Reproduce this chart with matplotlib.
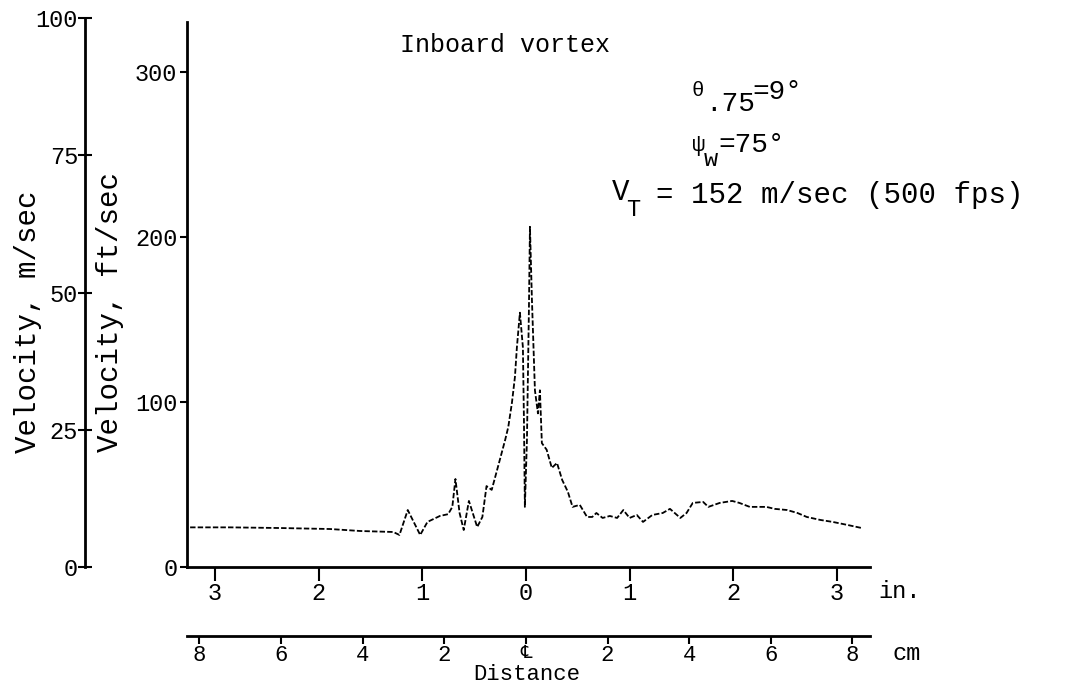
import matplotlib
matplotlib.use("Agg")
import matplotlib.pyplot as plt

# Velocity profile across the inboard vortex
dist_in = [-3.24, -2.85, -2.37, -1.89, -1.60, -1.28, -1.22, -1.14, -1.02, -0.95,
           -0.83, -0.75, -0.71, -0.68, -0.64, -0.60, -0.55, -0.47, -0.42, -0.38,
           -0.33, -0.27, -0.20, -0.17, -0.135, -0.106, -0.087, -0.058, -0.029, -0.019,
           -0.010, 0.010, 0.029, 0.039, 0.058, 0.087, 0.116, 0.135, 0.154, 0.20,
           0.25, 0.30, 0.35, 0.405, 0.45, 0.52, 0.59, 0.64, 0.68, 0.74,
           0.81, 0.88, 0.94, 1.00, 1.07, 1.13, 1.22, 1.32, 1.39, 1.49,
           1.55, 1.61, 1.71, 1.76, 1.87, 1.99, 2.06, 2.16, 2.32, 2.40,
           2.52, 2.62, 2.71, 2.84, 2.96, 3.10, 3.24]
vel_fps = [24, 24, 23.6, 23, 21.8, 21.2, 19.4, 34.5, 19.4, 27.3,
           30.9, 32, 36.4, 53.3, 32.7, 22.4, 40, 24.2, 30.3, 49,
           46.7, 60.6, 77, 84.8, 99.4, 115, 133, 154, 133, 89,
           36.4, 77, 156, 206, 162, 107, 93, 107, 75, 71,
           60, 63, 52.7, 45.5, 36.4, 37.6, 30.3, 30.3, 32.7, 29.7,
           30.9, 29.7, 34.5, 29.7, 31.5, 27.3, 31.5, 32.7, 35.2, 29.7,
           32.7, 38.8, 39.4, 36.4, 38.8, 40, 38.8, 36.4, 36.4, 35.2,
           34.5, 32.7, 30.3, 28.5, 27.3, 25.5, 23.6]

fps_ticks = [0, 100, 200, 300]
ms_ticks = [0, 25, 50, 75, 100]
in_ticks = [-3, -2, -1, 0, 1, 2, 3]
cm_ticks = [-8, -6, -4, -2, 0, 2, 4, 6, 8]
cm_labels = ["8", "6", "4", "2", "\u2104", "2", "4", "6", "8"]

plt.rcParams["font.family"] = ["Liberation Mono", "DejaVu Sans"]

W, H = 1085, 685
fig = plt.figure(figsize=(W / 100, H / 100), dpi=100)

def fx(px):
    return px / W

def fy(py):
    return 1 - py / H

# main axes (ft/sec, inches)
ax = fig.add_axes([fx(187), fy(567), fx(870) - fx(187), fy(22) - fy(567)])
ax.plot(dist_in, vel_fps, color="black", lw=1.3, linestyle=(0, (3, 1.2)))
ax.set_xlim(-3.27, 3.32)
ax.set_ylim(0, 330)
for s in ["top", "right"]:
    ax.spines[s].set_visible(False)
for s in ["left", "bottom"]:
    ax.spines[s].set_linewidth(2)
ax.set_yticks(fps_ticks)
ax.set_yticklabels([str(t) for t in fps_ticks], fontsize=17)
ax.tick_params(axis="y", direction="out", length=5, width=1.5, pad=2)
ax.set_xticks(in_ticks)
ax.set_xticklabels([str(abs(t)) for t in in_ticks], fontsize=17)
ax.tick_params(axis="x", direction="out", length=10, width=1.5, pad=1)

# centimetre scale underneath
sec = ax.secondary_xaxis(-0.127, functions=(lambda x: x * 2.54, lambda x: x / 2.54))
sec.set_xticks(cm_ticks)
sec.set_xticklabels(cm_labels, fontsize=16)
sec.tick_params(direction="out", length=6, width=1.5, pad=0)
sec.spines["bottom"].set_linewidth(2)
for lab in sec.get_xticklabels():
    if lab.get_text() == "\u2104":
        lab.set_fontsize(13)

# m/sec scale on the far left
ax2 = fig.add_axes([fx(85), fy(567), 0.0005, fy(18) - fy(567)])
ax2.set_ylim(0, 100)
ax2.set_xticks([])
for s in ["top", "right", "bottom"]:
    ax2.spines[s].set_visible(False)
ax2.spines["left"].set_linewidth(2)
ax2.set_yticks(ms_ticks)
ax2.set_yticklabels([str(t) for t in ms_ticks], fontsize=17)
ax2.tick_params(axis="y", direction="inout", length=10, width=1.5, pad=0)

# axis labels
fig.text(fx(28), fy(322), "Velocity, m/sec", rotation=90, ha="center", va="center", fontsize=21)
fig.text(fx(110), fy(312), "Velocity, ft/sec", rotation=90, ha="center", va="center", fontsize=21)
fig.text(fx(527), fy(675), "Distance", ha="center", va="center", fontsize=16)
fig.text(fx(878), fy(592), "in.", ha="left", va="center", fontsize=17)
fig.text(fx(893), fy(654), "cm", ha="left", va="center", fontsize=17)

# annotations, subscripts drawn at near full size as in the typed original
fig.text(fx(400), fy(45), "Inboard vortex", ha="left", va="center", fontsize=18)
fig.text(fx(692), fy(91), "\u03b8", ha="left", va="center", fontsize=15)
fig.text(fx(705), fy(104), ".75", ha="left", va="center", fontsize=20)
fig.text(fx(752), fy(92), "=9°", ha="left", va="center", fontsize=20)
fig.text(fx(692), fy(145), "\u03c8", ha="left", va="center", fontsize=16)
fig.text(fx(704), fy(159), "w", ha="left", va="center", fontsize=17)
fig.text(fx(718), fy(145), "=75°", ha="left", va="center", fontsize=20)
fig.text(fx(612), fy(192), "V", ha="left", va="center", fontsize=21)
fig.text(fx(626), fy(209), "T", ha="left", va="center", fontsize=17)
fig.text(fx(656), fy(195), "= 152 m/sec (500 fps)", ha="left", va="center", fontsize=21)

plt.savefig("out.png", dpi=100)
